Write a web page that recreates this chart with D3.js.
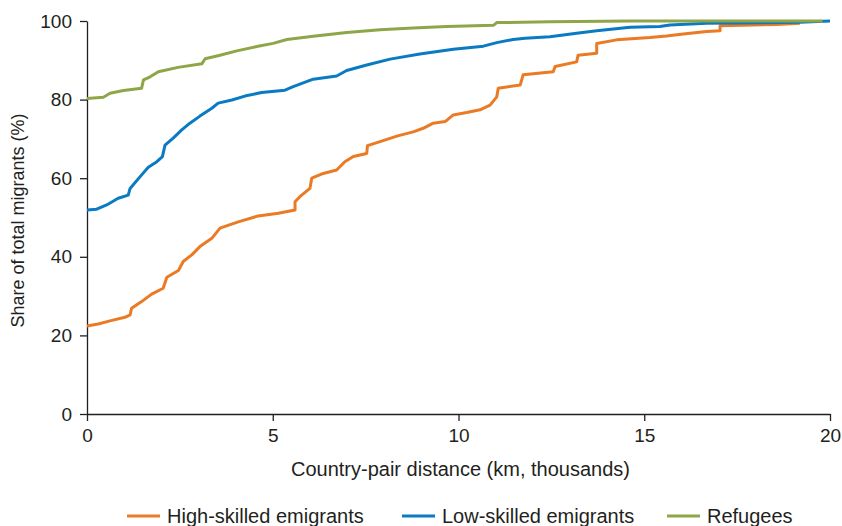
<!DOCTYPE html>
<html><head><meta charset="utf-8">
<script src="https://cdn.jsdelivr.net/npm/d3@7"></script>
<style>
html,body{margin:0;padding:0;background:#fff;}
text{font-family:"Liberation Sans",Arial,sans-serif;fill:#231f20;}
</style></head>
<body><svg id="chart" width="842" height="526"></svg>
<script>
// Distances (thousand km) and cumulative shares (%)
const highDist = [0,0.30,0.62,1.02,1.16,1.20,1.47,1.74,2.05,2.15,2.46,2.59,2.82,3.04,3.36,3.58,4.07,4.61,5.15,5.60,5.60,5.73,6.00,6.05,6.36,6.72,6.94,7.17,7.53,7.55,7.89,8.34,8.78,9.05,9.32,9.64,9.86,10.22,10.58,10.85,11.03,11.07,11.66,11.74,12.55,12.60,13.18,13.22,13.72,13.72,14.26,15.15,15.60,16.05,16.68,17.04,17.04,18.57,19.19];
const highShare = [22.4,22.9,23.7,24.6,25.2,26.9,28.6,30.5,32.0,34.8,36.5,38.8,40.5,42.6,44.7,47.3,48.9,50.4,51.1,51.9,54.0,55.3,57.4,60.0,61.2,62.1,64.2,65.5,66.3,68.3,69.3,70.7,71.8,72.7,74.0,74.4,76.1,76.7,77.4,78.6,80.7,82.9,83.7,86.3,87.1,88.4,89.6,91.3,91.8,94.3,95.2,95.8,96.2,96.7,97.3,97.5,98.8,99.1,99.4];
const lowDist = [0,0.26,0.53,0.84,1.11,1.16,1.43,1.65,1.88,2.03,2.10,2.32,2.55,2.77,3.04,3.36,3.53,3.90,4.25,4.70,5.33,5.55,6.09,6.72,6.99,7.53,8.16,8.96,9.86,10.67,11.03,11.47,11.79,12.46,13.18,13.72,14.62,15.42,15.69,16.68,19.19,20];
const lowShare = [51.9,52.1,53.2,54.9,55.7,57.4,60.4,62.8,64.2,65.5,68.4,70.2,72.3,74.0,75.8,77.8,79.1,79.9,80.9,81.8,82.4,83.3,85.2,86.0,87.4,88.8,90.3,91.6,92.8,93.6,94.5,95.3,95.6,96.0,96.9,97.5,98.4,98.6,99.0,99.4,99.7,100];
const refDist = [0,0.44,0.62,0.98,1.47,1.52,1.70,1.92,2.45,3.09,3.18,3.58,4.03,4.57,5.01,5.38,6.09,6.99,7.89,8.78,9.68,10.94,11.03,12.46,14.62,19.8];
const refShare = [80.3,80.6,81.6,82.3,82.9,85.0,85.8,87.1,88.2,89.1,90.4,91.3,92.4,93.5,94.3,95.3,96.1,97.1,97.8,98.2,98.6,98.9,99.6,99.8,100,100];

const seriesNames = ["High-skilled emigrants","Low-skilled emigrants","Refugees"];
const seriesColors = ["#ea7a23","#0a7ac2","#8ea548"];
const xTicks = [0,5,10,15,20];
const yTicks = [0,20,40,60,80,100];

const svg = d3.select("#chart");
const m = {left:87, right:12, top:21, bottom:112};
const W = 842, H = 526;
const x = d3.scaleLinear().domain([0,20]).range([m.left, W - m.right]);
const y = d3.scaleLinear().domain([0,100]).range([H - m.bottom, m.top]);

const xAxis = svg.append("g").attr("transform",`translate(0,${y(0)})`)
  .call(d3.axisBottom(x).tickValues(xTicks).tickSize(7).tickPadding(8).tickSizeOuter(0));
const yAxis = svg.append("g").attr("transform",`translate(${x(0)},0)`)
  .call(d3.axisLeft(y).tickValues(yTicks).tickSize(7).tickPadding(8).tickSizeOuter(0));
[xAxis,yAxis].forEach(g=>{
  g.selectAll("path,line").attr("stroke","#231f20").attr("stroke-width",1.3);
  g.selectAll("text").style("font-size","19px").attr("fill","#231f20");
});

const data = [
  d3.zip(highDist, highShare),
  d3.zip(lowDist, lowShare),
  d3.zip(refDist, refShare)
];
const line = d3.line().x(d=>x(d[0])).y(d=>y(d[1]));
data.forEach((d,i)=>{
  svg.append("path").datum(d).attr("d",line)
    .attr("fill","none").attr("stroke",seriesColors[i]).attr("stroke-width",3)
    .attr("stroke-linejoin","round");
});

svg.append("text").attr("x",(x(0)+x(20))/2 + 2).attr("y",476).attr("text-anchor","middle")
  .style("font-size","20px").text("Country-pair distance (km, thousands)");
svg.append("text").attr("transform",`translate(24,${(y(0)+y(100))/2 + 3}) rotate(-90)`)
  .attr("text-anchor","middle").style("font-size","18px").text("Share of total migrants (%)");

const legX = [127, 402, 667];
seriesNames.forEach((n,i)=>{
  svg.append("line").attr("x1",legX[i]).attr("x2",legX[i]+33).attr("y1",516).attr("y2",516)
    .attr("stroke",seriesColors[i]).attr("stroke-width",3);
  svg.append("text").attr("x",legX[i]+40).attr("y",523).style("font-size","20px").text(n);
});
</script></body></html>
